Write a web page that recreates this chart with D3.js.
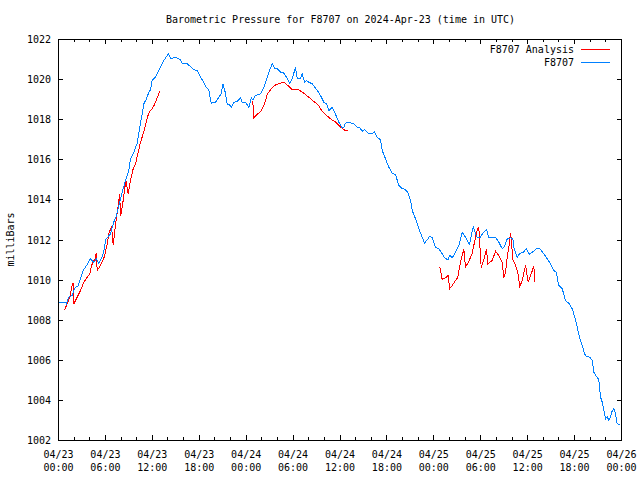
<!DOCTYPE html>
<html><head><meta charset="utf-8">
<script src="https://cdn.jsdelivr.net/npm/d3@7"></script>
<style>
html,body{margin:0;padding:0;background:#fff;}
svg{display:block;}
text{font-family:"DejaVu Sans Mono","Liberation Mono",monospace;font-size:10px;fill:#000;}
</style></head><body>
<svg id="chart" width="640" height="480"></svg>
<script>
// ---- data ----
const startTime = "2024-04-23T00:00:00Z";
const spanHours = 72;
const yDomain = [1002, 1022];
const yTickValues = [1002, 1004, 1006, 1008, 1010, 1012, 1014, 1016, 1018, 1020, 1022];
const xTickDates = ["04/23","04/23","04/23","04/23","04/24","04/24","04/24","04/24","04/25","04/25","04/25","04/25","04/26"];
const xTickTimes = ["00:00","06:00","12:00","18:00","00:00","06:00","12:00","18:00","00:00","06:00","12:00","18:00","00:00"];
const titleText = "Barometric Pressure for F8707 on 2024-Apr-23 (time in UTC)";
const yLabelText = "milliBars";
const seriesNames = ["F8707 Analysis", "F8707"];

const stationHours = [0,0.9,1.02,1.32,1.75,1.96,2.17,2.47,2.72,3.16,
3.67,4.09,4.51,4.86,5.15,5.59,5.88,6.01,6.65,7.07,
7.42,7.71,8.15,8.57,8.99,9.21,9.63,10.07,10.36,10.70,
10.91,11.25,11.55,11.77,11.98,12.41,12.83,13.05,13.47,13.90,
14.03,14.41,14.96,15.60,15.82,16.46,17.30,17.74,18.16,18.58,
18.89,19.22,19.53,20.08,20.50,20.81,21.01,21.27,21.58,21.81,
22.09,22.42,22.85,23.28,23.49,23.92,24.34,24.65,24.85,25.19,
25.83,26.26,26.47,26.90,27.33,27.62,27.97,28.39,28.74,29.16,
29.58,29.89,30.31,30.53,30.95,31.17,31.46,31.72,32.01,32.45,
33.09,33.51,33.93,34.28,34.57,35.00,35.21,35.55,35.85,36.28,
36.49,36.71,36.92,37.77,38.20,38.53,38.84,39.13,39.69,40.12,
40.41,40.76,41.18,41.40,41.82,42.24,42.68,43.10,43.52,43.83,
44.38,44.67,45.02,45.24,45.66,46.08,46.51,46.81,47.15,47.49,
47.79,48.22,48.64,49.07,49.37,49.79,50.04,50.35,50.77,51.20,
51.63,51.92,52.27,52.56,53.04,53.33,53.55,53.97,54.27,54.74,
55.03,55.89,56.31,56.75,57.04,57.39,57.81,58.10,58.23,58.67,
59.00,59.43,59.82,60.24,60.58,61.13,61.56,62.07,62.50,62.92,
63.35,63.65,63.98,64.42,64.84,65.26,65.70,66.12,66.34,66.67,
66.98,67.27,67.53,67.95,68.26,68.46,68.81,69.10,69.32,69.54,
69.74,69.96,70.17,70.38,70.60,70.72,71.02,71.24,71.45,71.79];
const stationValues = [1008.87,1008.87,1008.82,1009.15,1009.23,1009.48,1009.65,1009.68,1009.95,1010.48,
1010.78,1011.06,1010.89,1011.06,1010.84,1011.18,1011.56,1012.01,1012.31,1012.89,
1013.22,1013.72,1014.38,1014.97,1015.47,1016.05,1016.38,1016.83,1017.55,1018.29,
1018.79,1019.04,1019.37,1019.49,1019.96,1020.12,1020.45,1020.62,1020.95,1021.20,
1021.29,1021.04,1021.12,1020.99,1020.79,1020.79,1020.50,1020.45,1020.12,1019.87,
1019.62,1019.49,1018.82,1018.87,1019.12,1019.29,1019.79,1019.46,1018.76,1018.79,
1018.62,1018.87,1018.91,1019.09,1018.87,1018.87,1018.62,1019.09,1018.99,1019.21,
1019.29,1019.62,1019.87,1020.37,1020.79,1020.57,1020.54,1020.37,1020.37,1020.12,
1019.79,1020.04,1020.62,1020.04,1020.04,1020.29,1019.87,1019.96,1019.87,1019.79,
1019.46,1019.21,1018.87,1018.79,1018.46,1018.62,1018.46,1018.16,1017.88,1017.60,
1017.63,1017.83,1017.88,1017.80,1017.63,1017.60,1017.43,1017.50,1017.30,1017.30,
1017.38,1017.13,1017.00,1016.46,1016.05,1015.63,1015.33,1015.27,1014.72,1014.60,
1014.50,1014.38,1013.97,1013.47,1013.06,1012.56,1012.14,1011.84,1012.01,1012.19,
1012.11,1011.64,1011.56,1011.31,1011.11,1011.01,1011.23,1011.11,1011.39,1011.73,
1012.39,1012.22,1011.98,1011.78,1012.67,1012.31,1012.14,1012.14,1012.34,1012.51,
1012.14,1012.14,1011.89,1011.56,1011.68,1012.06,1012.11,1012.06,1011.64,1011.14,
1011.34,1011.39,1011.56,1011.28,1011.39,1011.56,1011.56,1011.31,1011.06,1010.81,
1010.48,1010.39,1009.73,1009.57,1008.98,1008.85,1008.57,1008.02,1007.65,1007.07,
1006.74,1006.32,1006.19,1006.15,1005.99,1005.41,1005.19,1005.03,1004.16,1003.91,
1003.50,1003.08,1003.20,1003.00,1003.16,1003.41,1003.58,1003.33,1002.83,1002.80];

// analysis: null marks a gap between runs
const analysisHours = [0.77,1.11,1.45,1.75,1.88,1.96,2.39,2.81,3.24,3.67,
4.00,4.18,4.44,4.64,4.82,4.95,5.37,5.88,6.23,6.43,
6.78,7.00,7.16,7.42,7.64,7.80,7.97,8.27,8.61,8.91,
9.21,9.55,9.85,10.19,10.49,10.83,11.13,11.34,11.64,11.98,
12.28,12.62,12.96, 18,
24.85,24.98,25.41,25.96,26.35,26.69,27.11,27.62,28.18,28.81,
29.33,29.89,30.73,31.37,32.01,32.65,33.29,33.60,34.15,34.79,
35.43,35.98,36.49,36.71,37.05, 42,
48.76,49.07,49.49,49.84,50.01,50.35,50.77,51.07,51.29,51.50,
51.71,51.84,52.05,52.48,52.91,53.33,53.55,53.75,54.06,54.39,
54.74,54.90,55.47,55.89,56.31,56.75,56.95,57.17,57.39,57.59,
57.81,57.94,58.10,58.45,58.74,59.00,59.30,59.73,60.07,60.37,
60.79,60.92];
const analysisValues = [1008.52,1008.82,1009.15,1009.73,1009.85,1008.82,1009.15,1009.48,1009.90,1010.14,
1010.31,1010.64,1010.98,1010.98,1011.36,1010.48,1010.73,1011.18,1011.81,1012.31,
1012.67,1011.73,1012.31,1013.14,1013.72,1014.27,1013.22,1013.97,1014.97,1014.30,
1014.97,1015.55,1015.80,1016.38,1016.88,1017.30,1017.71,1018.09,1018.41,1018.54,
1018.76,1019.09,1019.42, null,
1018.91,1018.09,1018.26,1018.46,1018.79,1019.26,1019.49,1019.71,1019.79,1019.87,
1019.71,1019.49,1019.49,1019.32,1019.12,1018.91,1018.71,1018.49,1018.26,1018.04,
1017.88,1017.66,1017.50,1017.46,1017.46, null,
1010.68,1010.03,1010.11,1010.23,1009.57,1009.73,1009.98,1010.14,1010.64,1011.06,
1011.34,1011.56,1010.64,1010.94,1011.34,1012.14,1012.51,1012.64,1010.61,1011.01,
1011.56,1010.81,1010.98,1011.44,1011.23,1010.89,1010.11,1010.39,1011.18,1011.64,
1012.34,1011.89,1011.01,1010.73,1010.39,1009.68,1009.98,1010.73,1009.90,1010.23,
1010.69,1009.90];

const colors = ["#ff0000", "#0080ff"];

// ---- drawing ----
const L = 58, R = 621, T = 39, B = 440;
const svg = d3.select("#chart");
const t0 = new Date(startTime);
const hToDate = h => new Date(t0.getTime() + h * 3600e3);

const x = d3.scaleUtc().domain([t0, hToDate(spanHours)]).range([L + 0.5, R + 0.5]);
const y = d3.scaleLinear().domain(yDomain).range([B + 0.5, T + 0.5]);

const station = stationHours.map((h, i) => ({t: hToDate(h), v: stationValues[i]}));
const analysis = analysisHours.map((h, i) => ({t: hToDate(h), v: analysisValues[i]}));

// title
svg.append("text").attr("x", (L + R) / 2 + 1).attr("y", 19).attr("text-anchor", "middle")
  .attr("dominant-baseline", "central").text(titleText);

// y label
svg.append("text").attr("transform", `translate(10,${(T + B) / 2}) rotate(-90)`)
  .attr("text-anchor", "middle").attr("dominant-baseline", "central").text(yLabelText);

// ticks
const majorTicks = d3.range(0, spanHours + 1, 6).map(hToDate);
const minorTicks = d3.range(0, spanHours + 1, 2).filter(h => h % 6 !== 0).map(hToDate);

const axisG = svg.append("g").attr("stroke", "#000").attr("stroke-width", 1).attr("shape-rendering", "crispEdges");
majorTicks.forEach(d => {
  const xx = Math.round(x(d) - 0.5) + 0.5;
  axisG.append("line").attr("x1", xx).attr("x2", xx).attr("y1", B).attr("y2", B - 5);
  axisG.append("line").attr("x1", xx).attr("x2", xx).attr("y1", T).attr("y2", T + 5);
});
minorTicks.forEach(d => {
  const xx = Math.round(x(d) - 0.5) + 0.5;
  axisG.append("line").attr("x1", xx).attr("x2", xx).attr("y1", B).attr("y2", B - 3);
  axisG.append("line").attr("x1", xx).attr("x2", xx).attr("y1", T).attr("y2", T + 3);
});
yTickValues.forEach(v => {
  const yy = Math.round(y(v) - 0.5) + 0.5;
  axisG.append("line").attr("x1", L).attr("x2", L + 5).attr("y1", yy).attr("y2", yy);
  axisG.append("line").attr("x1", R + 1).attr("x2", R + 1 - 5).attr("y1", yy).attr("y2", yy);
});

// tick labels
yTickValues.forEach(v => {
  svg.append("text").attr("x", 51).attr("y", y(v)).attr("text-anchor", "end")
    .attr("dominant-baseline", "central").text(v);
});
majorTicks.forEach((d, i) => {
  svg.append("text").attr("x", x(d)).attr("y", 454).attr("text-anchor", "middle")
    .attr("dominant-baseline", "central").text(xTickDates[i]);
  svg.append("text").attr("x", x(d)).attr("y", 467).attr("text-anchor", "middle")
    .attr("dominant-baseline", "central").text(xTickTimes[i]);
});

// lines
const line = d3.line().defined(d => d.v !== null).x(d => x(d.t)).y(d => y(d.v));
svg.append("path").datum(analysis).attr("d", line).attr("fill", "none")
  .attr("stroke", colors[0]).attr("stroke-width", 1).attr("shape-rendering", "crispEdges");
svg.append("path").datum(station).attr("d", line).attr("fill", "none")
  .attr("stroke", colors[1]).attr("stroke-width", 1).attr("shape-rendering", "crispEdges");

// frame
svg.append("rect").attr("x", L + 0.5).attr("y", T + 0.5).attr("width", R - L).attr("height", B - T)
  .attr("fill", "none").attr("stroke", "#000").attr("stroke-width", 1).attr("shape-rendering", "crispEdges");

// legend
const legendY = [49, 62];
seriesNames.forEach((name, i) => {
  svg.append("text").attr("x", 574).attr("y", legendY[i]).attr("text-anchor", "end")
    .attr("dominant-baseline", "central").text(name);
  svg.append("line").attr("x1", 581).attr("x2", 610).attr("y1", legendY[i] + 0.5).attr("y2", legendY[i] + 0.5)
    .attr("stroke", colors[i]).attr("stroke-width", 1).attr("shape-rendering", "crispEdges");
});
</script>
</body></html>
